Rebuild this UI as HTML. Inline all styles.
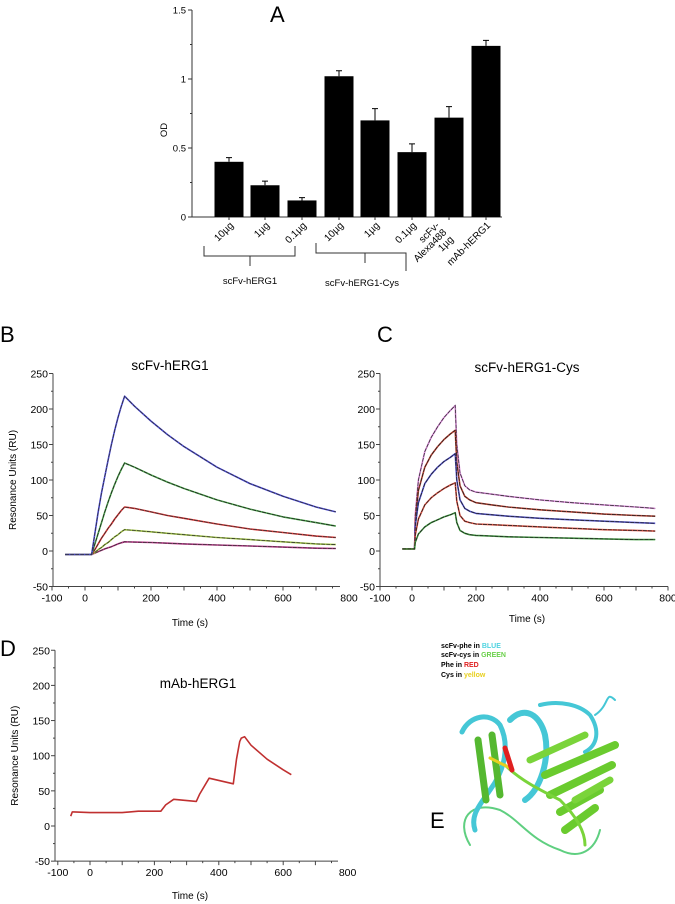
<!DOCTYPE html>
<html><head><meta charset="utf-8"><style>
html,body{margin:0;padding:0;background:#fff}
svg{display:block;font-family:"Liberation Sans",Arial,sans-serif}
</style></head><body>
<svg id="fig" width="675" height="904" viewBox="0 0 675 904" xmlns="http://www.w3.org/2000/svg">
<g id="pA"></g>
<g id="pB"></g>
<g id="pC"></g>
<g id="pD"></g>
<g id="pE">
  <text x="270" y="22" font-size="22">A</text>
  <text x="0" y="342" font-size="22">B</text>
  <text x="377" y="342" font-size="22">C</text>
  <text x="0" y="656" font-size="22">D</text>
  <text x="430" y="828" font-size="22">E</text>
  <g font-size="7" font-weight="bold">
    <text x="441" y="648">scFv-phe in <tspan fill="#4fd3e0">BLUE</tspan></text>
    <text x="441" y="657">scFv-cys in <tspan fill="#6ad04a">GREEN</tspan></text>
    <text x="441" y="667">Phe in <tspan fill="#e02020">RED</tspan></text>
    <text x="441" y="677">Cys in <tspan fill="#e8d020">yellow</tspan></text>
  </g>
  <g fill="none" stroke-linecap="round" stroke-linejoin="round">
    <path d="M470,845 C455,820 470,800 500,810 C520,820 530,840 560,850 C580,860 595,850 600,830" stroke="#5fcf80" stroke-width="2"/>
    <path d="M462,732 C470,715 490,712 500,725 C510,745 505,770 490,790 C480,805 470,815 475,830" stroke="#45c7d6" stroke-width="5"/>
    <path d="M510,720 C525,705 540,715 545,735 C550,760 540,790 525,800" stroke="#45c7d6" stroke-width="6"/>
    <path d="M540,705 C560,700 580,705 590,715 C600,730 598,745 585,752" stroke="#45c7d6" stroke-width="4"/>
    <path d="M595,715 C610,705 605,690 615,700" stroke="#45c7d6" stroke-width="2"/>
    <path d="M478,740 L486,800 M492,735 L500,795" stroke="#55b830" stroke-width="7"/>
    <path d="M545,775 L615,745 M550,795 L612,765 M560,812 L600,790 M565,830 L595,808" stroke="#6acb2e" stroke-width="8"/>
    <path d="M530,760 L585,735 M575,800 L610,780" stroke="#7ad43a" stroke-width="7"/>
    <path d="M505,765 C520,780 540,790 560,800 C575,815 585,830 585,845" stroke="#7ad43a" stroke-width="3"/>
    <path d="M490,758 L510,768" stroke="#e8d020" stroke-width="3"/>
    <path d="M505,748 L512,770" stroke="#e02020" stroke-width="5"/>
  </g>
</g>
</svg>
<script>
var NS="http://www.w3.org/2000/svg";
function mk(p,tag,attrs){var e=document.createElementNS(NS,tag);for(var k in attrs)e.setAttribute(k,attrs[k]);p.appendChild(e);return e;}
function txt(p,x,y,s,fs,anchor,rot){var t=mk(p,"text",{x:x,y:y,"font-size":fs,"text-anchor":anchor||"middle"});if(rot)t.setAttribute("transform","rotate("+rot+" "+x+" "+y+")");t.textContent=s;return t;}

/* ---------- Panel A data ---------- */
var barCategories=["10µg","1µg","0.1µg","10µg","1µg","0.1µg","scFv-\nAlexa488\n1µg","mAb-hERG1"];
var barValues=[0.40,0.23,0.12,1.02,0.70,0.47,0.72,1.24];
var barErrors=[0.03,0.03,0.02,0.04,0.085,0.06,0.08,0.04];
var odTicks=[0,0.5,1,1.5];
var odTickLabels=["0","0.5","1","1.5"];

/* ---------- Panel B data ---------- */
var bTimes=[-60,20,30,40,50,60,70,80,90,100,110,120,150,200,250,300,400,500,600,700,760];
var bSeries1=[-5,-5,25,55,82,105,128,150,170,188,204,218,204,183,164,147,118,95,77,62,55];
var bSeries2=[-5,-5,10,25,40,55,69,82,94,105,115,124,118,107,97,88,72,59,48,40,35];
var bSeries3=[-5,-5,2,10,18,25,32,38,45,51,57,62,60,55,50,46,38,31,26,21,19];
var bSeries4=[-5,-5,-2,2,5,9,12,16,20,23,27,30,29,27,25,23,19,16,13,10,9];
var bSeries5=[-5,-5,-3,-1,1,3,4.5,6,8,10,11.5,13,12.5,12,11,10,8.5,7,5.5,4,3.5];

/* ---------- Panel C data ---------- */
var cTimes=[-30,8,10,20,40,60,80,100,120,135,140,150,165,180,200,250,300,400,500,600,700,760];
var cSeries1=[3,3,50,100,140,160,175,188,198,205,150,110,92,86,83,80,77,72,68,65,62,60];
var cSeries2=[3,3,40,85,118,135,147,157,165,170,125,92,77,72,68,65,62,58,55,52,50,49];
var cSeries3=[3,3,35,68,95,108,118,126,132,137,100,72,60,56,53,51,49,46,44,42,40,39];
var cSeries4=[3,3,22,45,65,75,82,88,93,96,70,50,42,40,38,37,36,34,32,30,29,28];
var cSeries5=[3,3,12,24,34,40,44,48,51,54,40,29,25,23,22,21,20,19,18,17,16,16];

/* ---------- Panel D data ---------- */
var dTimes=[-60,-55,-50,0,100,150,220,235,260,330,340,370,445,455,465,470,480,500,550,600,625];
var dValues=[14,20,20,19,19,21,21,30,38,35,45,68,60,95,120,125,127,115,95,80,73];

var sprYTicks=[-50,0,50,100,150,200,250];
var sprXTicks=[-100,0,200,400,600,800];

/* ---------- Panel A draw ---------- */
(function(){
  var g=document.getElementById("pA");
  var x0=192,y0=217,ppu=138,xEnd=502;
  function ya(v){return y0-v*ppu;}
  var centers=[229,265,302,339,375,412,449,486];
  mk(g,"line",{x1:x0,y1:ya(1.5),x2:x0,y2:y0,stroke:"#333","stroke-width":1});
  mk(g,"line",{x1:x0-3,y1:y0,x2:xEnd,y2:y0,stroke:"#333","stroke-width":1});
  for(var i=0;i<odTicks.length;i++){
    var yy=ya(odTicks[i]);
    mk(g,"line",{x1:x0-4,y1:yy,x2:x0,y2:yy,stroke:"#333"});
    var t=txt(g,x0-6,yy+3.5,odTickLabels[i],9.5,"end");
    
    
    if(i<odTicks.length-1){var ym=ya((odTicks[i]+odTicks[i+1])/2);mk(g,"line",{x1:x0-2,y1:ym,x2:x0,y2:ym,stroke:"#333"});}
  }
  var ot=txt(g,167,130,"OD",9.5,"middle",-90);
  
  
  for(var i=0;i<barValues.length;i++){
    var cx=centers[i],top=ya(barValues[i]);
    var r=mk(g,"rect",{x:cx-14.5,y:top,width:29,height:y0-top,fill:"#000"});
    
    
    var et=ya(barValues[i]+barErrors[i]);
    var e=mk(g,"path",{d:"M"+cx+","+top+"V"+et+"M"+(cx-3)+","+et+"H"+(cx+3),stroke:"#000","stroke-width":1,fill:"none"});
    
    
    mk(g,"line",{x1:cx,y1:y0,x2:cx,y2:y0+3,stroke:"#333"});
    var lines=barCategories[i].split("\n");
    for(var j=0;j<lines.length;j++){
      var lt=txt(g,cx+5+j*7-(lines.length-1)*7,y0+9+j*7,lines[j],10,"end",-45);
      
      
    }
  }
  var br=mk(g,"path",{d:"M204,246V256H295V246M250,256V266M316,243V253H406V271M365,253V263",stroke:"#333","stroke-width":1,fill:"none"});
  
  
  var g1=txt(g,250,284,"scFv-hERG1",9.5);
  
  
  var g2=txt(g,362,286,"scFv-hERG1-Cys",9.5);
  
  
})();

/* ---------- SPR panels ---------- */
function sprAxes(g,o){
  function X(t){return o.x0+t*o.sx;}
  function Y(v){return o.y0-v*o.sy;}
  mk(g,"line",{x1:o.ax,y1:Y(250),x2:o.ax,y2:Y(-50),stroke:"#444"});
  mk(g,"line",{x1:o.ax,y1:Y(-50),x2:o.xr,y2:Y(-50),stroke:"#444"});
  for(var v=-50;v<=250;v+=25){var yy=Y(v);mk(g,"line",{x1:o.ax-(v%50===0?4:2),y1:yy,x2:o.ax,y2:yy,stroke:"#444"});}
  for(var i=0;i<sprYTicks.length;i++){
    var t=txt(g,o.ax-5,Y(sprYTicks[i])+4,String(sprYTicks[i]),10.5,"end");
    
    
  }
  for(var tt=-100;tt<=800;tt+=50){var xx=X(tt);if(xx>o.xr+0.5)break;mk(g,"line",{x1:xx,y1:Y(-50),x2:xx,y2:Y(-50)+(tt%100===0?4:2),stroke:"#444"});}
  for(var i=0;i<sprXTicks.length;i++){
    var xx=X(sprXTicks[i]);
    var t=txt(g,xx,Y(-50)+15,String(sprXTicks[i]),10.5,"middle");
    
    
  }
  if(o.ytitle){var yt=txt(g,o.ax-37,(Y(250)+Y(-50))/2,"Resonance Units (RU)",10,"middle",-90);
    
    }
  var tl=txt(g,o.tx,o.ty,o.title,13.5,"middle");
  
  
  var xt=txt(g,o.xtx,o.xty,"Time (s)",10,"middle");
  
  
  return {X:X,Y:Y};
}
function series(g,s,times,vals,color,fit,name){
  var d="";
  for(var i=0;i<times.length;i++){d+=(i?"L":"M")+s.X(times[i]).toFixed(1)+","+s.Y(vals[i]).toFixed(1);}
  var p=mk(g,"path",{d:d,stroke:color,"stroke-width":1.6,fill:"none","stroke-linejoin":"round"});
  
  
  if(fit){var f=mk(g,"path",{d:d,stroke:fit,"stroke-width":0.8,fill:"none","stroke-dasharray":"4 1"});
    
    }
}
(function(){
  var g=document.getElementById("pB");
  var s=sprAxes(g,{x0:85,sx:0.33,y0:551,sy:0.71,ax:53,xr:340,ytitle:true,title:"scFv-hERG1",tx:170,ty:370,xtx:190,xty:626});
  series(g,s,bTimes,bSeries5,"#c0308a","#333","series-5");
  series(g,s,bTimes,bSeries4,"#a8d040","#333","series-4");
  series(g,s,bTimes,bSeries3,"#e03030","#333","series-3");
  series(g,s,bTimes,bSeries2,"#4caa4c","#222","series-2");
  series(g,s,bTimes,bSeries1,"#4a4ae0","#333","series-1");
})();
(function(){
  var g=document.getElementById("pC");
  var s=sprAxes(g,{x0:412,sx:0.32,y0:551,sy:0.71,ax:380,xr:668,ytitle:false,title:"scFv-hERG1-Cys",tx:527,ty:372,xtx:527,xty:622});
  series(g,s,cTimes,cSeries1,"#e08ae0","#333","series-1");
  series(g,s,cTimes,cSeries2,"#c04030","#222","series-2");
  series(g,s,cTimes,cSeries3,"#5050d0","#222","series-3");
  series(g,s,cTimes,cSeries4,"#e05040","#222","series-4");
  series(g,s,cTimes,cSeries5,"#40a040","#222","series-5");
})();
(function(){
  var g=document.getElementById("pD");
  var s=sprAxes(g,{x0:90,sx:0.322,y0:826,sy:0.703,ax:55,xr:338,ytitle:true,title:"mAb-hERG1",tx:198,ty:688,xtx:190,xty:899});
  series(g,s,dTimes,dValues,"#c03030",null,"mab-series");
})();
</script>
</body></html>
